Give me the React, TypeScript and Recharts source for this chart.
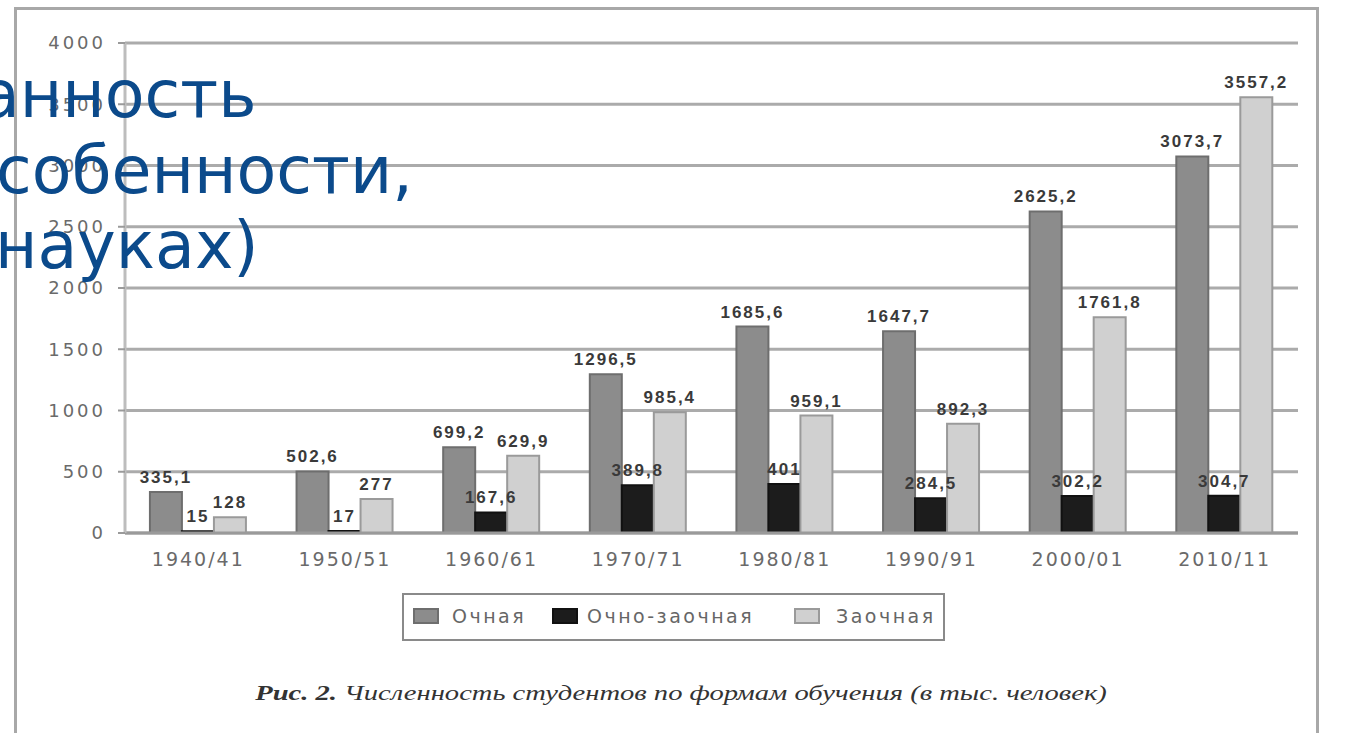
import { BarChart, Bar, XAxis, YAxis, CartesianGrid, LabelList } from "recharts";

const years = ["1940/41", "1950/51", "1960/61", "1970/71", "1980/81", "1990/91", "2000/01", "2010/11"];
const fullTime = [335.1, 502.6, 699.2, 1296.5, 1685.6, 1647.7, 2625.2, 3073.7];
const eveningStudy = [15, 17, 167.6, 389.8, 401, 284.5, 302.2, 304.7];
const correspondence = [128, 277, 629.9, 985.4, 959.1, 892.3, 1761.8, 3557.2];
const yTicks = [0, 500, 1000, 1500, 2000, 2500, 3000, 3500, 4000];

const series = [
  { key: "full", name: "Очная", fill: "#8c8c8c", stroke: "#6e6e6e" },
  { key: "evening", name: "Очно-заочная", fill: "#1c1c1c", stroke: "#111" },
  { key: "corr", name: "Заочная", fill: "#d0d0d0", stroke: "#9a9a9a" },
];

// legend item positions (swatch left, text left)
const legendPos = [
  [413, 452],
  [552, 587],
  [794, 836],
];

const data = years.map((y, i) => ({
  year: y,
  full: fullTime[i],
  evening: eveningStudy[i],
  corr: correspondence[i],
}));

const fmt = (v: any) => String(v).replace(".", ",");

const labelStyle = {
  fontFamily: "'Liberation Sans', Arial, sans-serif",
  fontSize: 17,
  fontWeight: 700,
  letterSpacing: 2,
  fill: "#3a3a3a",
};

export default function App() {
  return (
    <div
      style={{
        position: "fixed",
        left: 0,
        top: 0,
        width: 1350,
        height: 733,
        background: "#fff",
        overflow: "hidden",
      }}
    >
      <div
        style={{
          position: "absolute",
          left: 14,
          top: 7,
          width: 1305,
          height: 740,
          border: "3px solid #a8a8a8",
          boxSizing: "border-box",
        }}
      />
      <div style={{ position: "absolute", left: 0, top: 0 }}>
        <BarChart
          width={1350}
          height={580}
          data={data}
          margin={{ top: 43, right: 52, left: 65, bottom: 7 }}
          barCategoryGap="17%"
          barGap={0}
        >
          <CartesianGrid vertical={false} stroke="#ababab" strokeWidth={3} />
          <XAxis
            dataKey="year"
            height={40}
            axisLine={{ stroke: "#9a9a9a", strokeWidth: 3 }}
            tickLine={false}
            tickMargin={14}
            tick={{ fontFamily: "'DejaVu Sans', sans-serif", fontSize: 19, letterSpacing: 2, fill: "#6a6a6a" }}
          />
          <YAxis
            width={60}
            domain={[0, 4000]}
            ticks={yTicks}
            interval={0}
            axisLine={{ stroke: "#bdbdbd", strokeWidth: 3 }}
            tickLine={{ stroke: "#9a9a9a", strokeWidth: 2 }}
            tickSize={7}
            tickMargin={12}
            tick={{ fontFamily: "'DejaVu Sans', sans-serif", fontSize: 18, letterSpacing: 3, fill: "#6a6a6a" }}
          />
          {series.map((s) => (
            <Bar
              key={s.key}
              dataKey={s.key}
              name={s.name}
              fill={s.fill}
              stroke={s.stroke}
              strokeWidth={2}
              isAnimationActive={false}
            >
              <LabelList dataKey={s.key} position="top" offset={9} formatter={fmt} style={labelStyle} />
            </Bar>
          ))}
        </BarChart>
      </div>

      <div
        style={{
          position: "absolute",
          left: 402,
          top: 593,
          width: 543,
          height: 48,
          border: "2px solid #8a8a8a",
          boxSizing: "border-box",
        }}
      />
      {series.map((s, i) => (
        <div key={s.key}>
          <div
            style={{
              position: "absolute",
              left: legendPos[i][0],
              top: 608,
              width: 26,
              height: 16,
              background: s.fill,
              border: `2px solid ${s.stroke}`,
              boxSizing: "border-box",
            }}
          />
          <div
            style={{
              position: "absolute",
              left: legendPos[i][1],
              top: 604,
              lineHeight: "24px",
              fontFamily: "'DejaVu Sans', sans-serif",
              fontSize: 19,
              letterSpacing: 2.5,
              color: "#666",
              whiteSpace: "nowrap",
            }}
          >
            {s.name}
          </div>
        </div>
      ))}

      <div
        style={{
          position: "absolute",
          left: 0,
          width: 1362,
          top: 680,
          lineHeight: "26px",
          textAlign: "center",
          fontFamily: "'Liberation Serif', 'DejaVu Serif', serif",
          fontStyle: "italic",
          fontSize: 21,
          color: "#333",
          transform: "scaleX(1.36)",
          transformOrigin: "681px 0",
          whiteSpace: "nowrap",
        }}
      >
        <b>Рис. 2.</b> Численность студентов по формам обучения (в тыс. человек)
      </div>

      <div
        style={{
          position: "absolute",
          left: 0,
          top: 0,
          fontFamily: "'DejaVu Sans', sans-serif",
          fontSize: 65,
          color: "#0b4a8b",
          lineHeight: "75px",
        }}
      >
        <div style={{ position: "absolute", left: -20, top: 57, whiteSpace: "nowrap" }}>анность</div>
        <div style={{ position: "absolute", left: -4, top: 133, whiteSpace: "nowrap" }}>собенности,</div>
        <div style={{ position: "absolute", left: -5, top: 208, whiteSpace: "nowrap" }}>науках)</div>
      </div>
    </div>
  );
}
